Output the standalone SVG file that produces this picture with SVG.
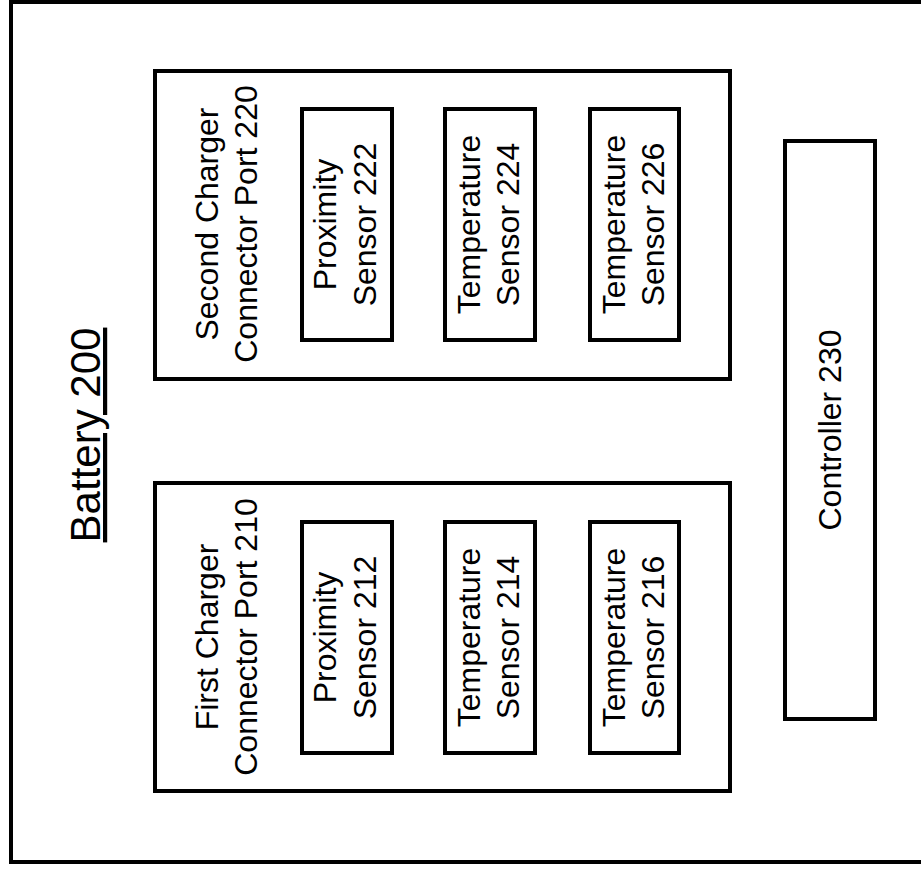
<svg xmlns="http://www.w3.org/2000/svg" width="921" height="873" viewBox="0 0 921 873">
<style>
  .box { fill: #ffffff; stroke: #000000; stroke-width: 4; }
  .lbl { font-family: "Liberation Sans", Arial, sans-serif; font-size: 32px; fill: #000000; text-anchor: middle; }
  .title { font-family: "Liberation Sans", Arial, sans-serif; font-size: 42px; fill: #000000; text-anchor: middle; text-decoration: underline; }
</style>
<rect width="921" height="873" fill="#ffffff"/>
<g id="battery200">
  <rect class="box" x="11" y="2" width="1000" height="860"/>
  <text class="title" transform="translate(100,435) rotate(-90)">Battery 200</text>
</g>
<g id="port220">
  <rect class="box" x="155" y="71" width="575" height="308"/>
  <text class="lbl" transform="translate(218,224) rotate(-90)">Second Charger</text>
  <text class="lbl" transform="translate(257,224) rotate(-90)">Connector Port 220</text>
</g>
<g id="sensor222">
  <rect class="box" x="302" y="109" width="90" height="231"/>
  <text class="lbl" transform="translate(336,224.5) rotate(-90)">Proximity</text>
  <text class="lbl" transform="translate(376,224.5) rotate(-90)">Sensor 222</text>
</g>
<g id="sensor224">
  <rect class="box" x="445" y="109" width="90" height="231"/>
  <text class="lbl" transform="translate(480,224.5) rotate(-90)">Temperature</text>
  <text class="lbl" transform="translate(519,224.5) rotate(-90)">Sensor 224</text>
</g>
<g id="sensor226">
  <rect class="box" x="590" y="109" width="89" height="231"/>
  <text class="lbl" transform="translate(625,224.5) rotate(-90)">Temperature</text>
  <text class="lbl" transform="translate(664,224.5) rotate(-90)">Sensor 226</text>
</g>
<g id="port210">
  <rect class="box" x="155" y="483" width="575" height="308"/>
  <text class="lbl" transform="translate(218,637) rotate(-90)">First Charger</text>
  <text class="lbl" transform="translate(257,637) rotate(-90)">Connector Port 210</text>
</g>
<g id="sensor212">
  <rect class="box" x="302" y="522" width="90" height="231"/>
  <text class="lbl" transform="translate(336,637.5) rotate(-90)">Proximity</text>
  <text class="lbl" transform="translate(376,637.5) rotate(-90)">Sensor 212</text>
</g>
<g id="sensor214">
  <rect class="box" x="445" y="522" width="90" height="231"/>
  <text class="lbl" transform="translate(480,637.5) rotate(-90)">Temperature</text>
  <text class="lbl" transform="translate(519,637.5) rotate(-90)">Sensor 214</text>
</g>
<g id="sensor216">
  <rect class="box" x="590" y="522" width="89" height="231"/>
  <text class="lbl" transform="translate(625,637.5) rotate(-90)">Temperature</text>
  <text class="lbl" transform="translate(664,637.5) rotate(-90)">Sensor 216</text>
</g>
<g id="controller230">
  <rect class="box" x="785" y="141" width="90" height="578"/>
  <text class="lbl" transform="translate(841,430) rotate(-90)">Controller 230</text>
</g>
<g id="connectors"></g>
</svg>
